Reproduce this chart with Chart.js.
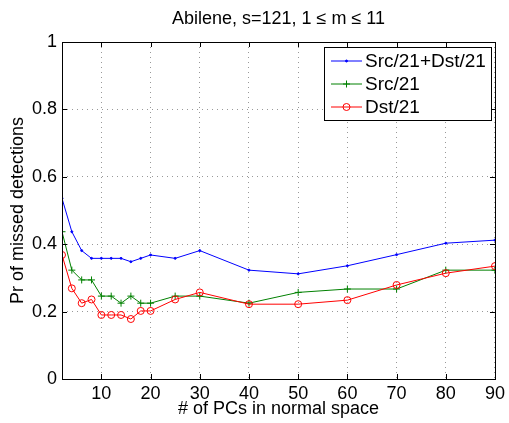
<!DOCTYPE html>
<html>
<head>
<meta charset="utf-8">
<script src="https://cdn.jsdelivr.net/npm/chart.js@4.4.0/dist/chart.umd.min.js"></script>
<style>
  html, body { margin: 0; padding: 0; background: #fff; }
  #wrap { width: 509px; height: 423px; }
</style>
</head>
<body>
<div id="wrap"><canvas id="chart" width="509" height="423"></canvas></div>
<script>
// number of PCs in normal space
const pcs = [2, 4, 6, 8, 10, 12, 14, 16, 18, 20, 25, 30, 40, 50, 60, 70, 80, 90];
// Pr of missed detections
const srcDst = [0.536, 0.437, 0.381, 0.358, 0.358, 0.358, 0.358, 0.348, 0.358, 0.368, 0.358, 0.381, 0.323, 0.312, 0.336, 0.369, 0.403, 0.412];
const src = [0.437, 0.323, 0.294, 0.294, 0.246, 0.246, 0.225, 0.246, 0.225, 0.225, 0.246, 0.246, 0.225, 0.257, 0.267, 0.267, 0.323, 0.323];
const dst = [0.368, 0.269, 0.225, 0.236, 0.190, 0.190, 0.190, 0.178, 0.202, 0.202, 0.236, 0.257, 0.222, 0.222, 0.234, 0.279, 0.314, 0.335];
const seriesNames = ['Src/21+Dst/21', 'Src/21', 'Dst/21'];
const xTicks = [10, 20, 30, 40, 50, 60, 70, 80, 90];
const yTicks = [0, 0.2, 0.4, 0.6, 0.8, 1];

const FONT = "'Liberation Sans', Arial, Helvetica, sans-serif";

function pts(ys) {
  return pcs.map((x, i) => ({ x: x, y: ys[i] }));
}

// box, inward ticks and legend like a matlab figure
const matlabFrame = {
  id: 'matlabFrame',
  afterDraw(chart) {
    const ctx = chart.ctx;
    const a = chart.chartArea;
    const xs = chart.scales.x, ys = chart.scales.y;
    const tl = 5;
    ctx.save();
    ctx.strokeStyle = '#000';
    ctx.lineWidth = 1;
    ctx.beginPath();
    xTicks.forEach(v => {
      const px = Math.round(xs.getPixelForValue(v)) + 0.5;
      ctx.moveTo(px, a.bottom); ctx.lineTo(px, a.bottom - tl);
      ctx.moveTo(px, a.top); ctx.lineTo(px, a.top + tl);
    });
    yTicks.forEach(v => {
      const py = Math.round(ys.getPixelForValue(v)) + 0.5;
      ctx.moveTo(a.left, py); ctx.lineTo(a.left + tl, py);
      ctx.moveTo(a.right, py); ctx.lineTo(a.right - tl, py);
    });
    ctx.stroke();
    ctx.strokeRect(Math.round(a.left) + 0.5, Math.round(a.top) + 0.5,
      Math.round(a.right - a.left), Math.round(a.bottom - a.top));

    // legend
    const lx = 324.5, ly = 47.5, lw = 167, lh = 73;
    ctx.fillStyle = '#fff';
    ctx.fillRect(lx, ly, lw, lh);
    ctx.strokeRect(lx, ly, lw, lh);
    ctx.font = '19px ' + FONT;
    ctx.textBaseline = 'middle';
    ctx.textAlign = 'left';
    chart.data.datasets.forEach((ds, i) => {
      const cy = 61 + i * 23;
      ctx.strokeStyle = ds.borderColor;
      ctx.lineWidth = 1;
      ctx.beginPath();
      ctx.moveTo(331, cy); ctx.lineTo(362, cy);
      ctx.stroke();
      ctx.fillStyle = ds.pointBackgroundColor;
      Chart.helpers.drawPoint(ctx, {
        pointStyle: ds.pointStyle, radius: ds.pointRadius, borderWidth: 1, rotation: 0
      }, 346.5, cy);
      ctx.fillStyle = '#000';
      ctx.fillText(seriesNames[i], 365, cy + 1);
    });
    ctx.restore();
  }
};

new Chart(document.getElementById('chart'), {
  type: 'line',
  data: {
    datasets: [
      {
        label: seriesNames[0], data: pts(srcDst),
        borderColor: '#0000ff', backgroundColor: '#0000ff',
        borderWidth: 1, pointStyle: 'circle', pointRadius: 1,
        pointBorderWidth: 1, pointBackgroundColor: '#0000ff', order: 2
      },
      {
        label: seriesNames[1], data: pts(src),
        borderColor: '#008000', backgroundColor: '#008000',
        borderWidth: 1, pointStyle: 'cross', pointRadius: 3.5,
        pointBorderWidth: 1, pointBackgroundColor: '#008000', order: 1
      },
      {
        label: seriesNames[2], data: pts(dst),
        borderColor: '#ff0000', backgroundColor: 'rgba(0,0,0,0)',
        borderWidth: 1, pointStyle: 'circle', pointRadius: 3.5,
        pointBorderWidth: 1, pointBackgroundColor: 'rgba(0,0,0,0)', order: 0
      }
    ]
  },
  options: {
    responsive: false,
    animation: false,
    devicePixelRatio: 1,
    layout: { padding: { top: 0, right: 11, left: 0, bottom: 0 } },
    elements: { line: { tension: 0 } },
    plugins: {
      legend: { display: false },
      tooltip: { enabled: false },
      title: {
        display: true,
        fullSize: false,
        text: 'Abilene, s=121, 1 \u2264 m \u2264 11',
        color: '#000',
        font: { family: FONT, size: 18, weight: 'normal' },
        padding: { top: 8, bottom: 12.4 }
      }
    },
    scales: {
      x: {
        type: 'linear', min: 2, max: 90,
        afterBuildTicks: s => { s.ticks = xTicks.map(v => ({ value: v })); },
        afterFit: s => { s.height = 44; },
        ticks: { color: '#000', font: { family: FONT, size: 18 }, padding: 4, maxRotation: 0 },
        grid: { color: '#999', borderDash: [1, 4], drawTicks: false },
        border: { display: false, dash: [1, 4] },
        title: {
          display: true, text: '# of PCs in normal space', color: '#000',
          font: { family: FONT, size: 18 }, padding: { top: 0, bottom: 3 }
        }
      },
      y: {
        min: 0, max: 1,
        afterBuildTicks: s => { s.ticks = yTicks.map(v => ({ value: v })); },
        afterFit: s => { s.width = 62; },
        ticks: { color: '#000', font: { family: FONT, size: 18 }, padding: 5, callback: v => String(v) },
        grid: { color: '#999', borderDash: [1, 4], drawTicks: false },
        border: { display: false, dash: [1, 4] },
        title: {
          display: true, text: 'Pr of missed detections', color: '#000',
          font: { family: FONT, size: 18 }, padding: { top: 7, bottom: 0 }
        }
      }
    }
  },
  plugins: [matlabFrame]
});
</script>
</body>
</html>
